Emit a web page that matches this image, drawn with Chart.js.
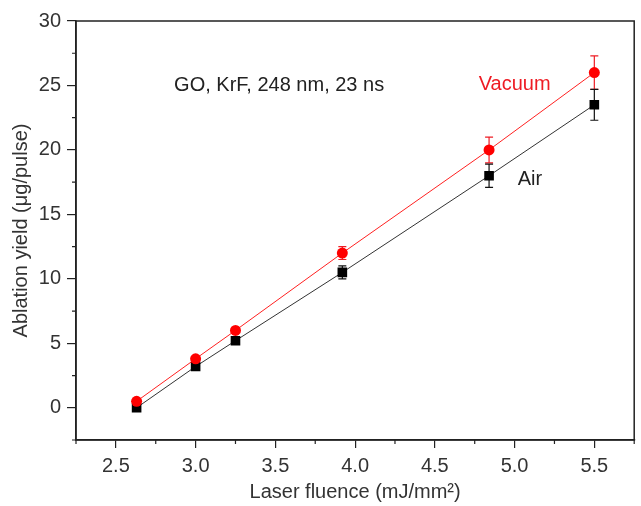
<!DOCTYPE html>
<html>
<head>
<meta charset="utf-8">
<script src="https://cdn.jsdelivr.net/npm/chart.js@4.4.0/dist/chart.umd.min.js"></script>
<style>
    html, body { margin: 0; padding: 0; background: #fff; }
    #wrap { width: 641px; height: 506px; }
</style>
</head>
<body>
<div id="wrap"><canvas id="ablationChart" width="641" height="506"></canvas></div>
<script>
// fluence values (mJ/mm^2)
const fluence = [2.63, 3.0, 3.25, 3.92, 4.84, 5.5];

// ablation yield (ug/pulse)
const vacuumYield = [0.5, 3.8, 6.0, 12.0, 20.0, 26.0];
const vacuumErr = [0, 0, 0, 0.5, 1.0, 1.3];
const airYield = [0.0, 3.2, 5.2, 10.5, 18.0, 23.5];
const airErr = [0, 0, 0, 0.5, 0.9, 1.2];

// text labels inside the plot
const noteText = ['GO, KrF, 248 nm, 23 ns', 'Vacuum', 'Air'];
const noteX = [2.865, 4.775, 5.02];
const noteY = [25.0, 25.1, 17.7];
const noteColor = ['#222', '#ee1c24', '#222'];

const FONT = 'Arial, "Liberation Sans", sans-serif';

function toPoints(xs, ys) {
    return xs.map((x, i) => ({ x: x, y: ys[i] }));
}

function isMajorX(v) {
    return Math.abs(v * 2 - Math.round(v * 2)) < 1e-6 && v > 2.3 && v < 5.7;
}
function isMajorY(v) {
    return Math.abs(v / 5 - Math.round(v / 5)) < 1e-6;
}

// error bars, frame box, minor ticks and notes
const extras = {
    id: 'extras',
    beforeDatasetsDraw(chart) {
        const ctx = chart.ctx;
        const xs = chart.scales.x, ys = chart.scales.y;
        chart.data.datasets.forEach(ds => {
            if (!ds.errors) return;
            ctx.save();
            ctx.strokeStyle = ds.errColor;
            ctx.lineWidth = 1.2;
            ds.data.forEach((p, i) => {
                const e = ds.errors[i];
                if (!e) return;
                const px = xs.getPixelForValue(p.x);
                const top = ys.getPixelForValue(p.y + e);
                const bot = ys.getPixelForValue(p.y - e);
                ctx.beginPath();
                ctx.moveTo(px, top); ctx.lineTo(px, bot);
                ctx.moveTo(px - 4, top); ctx.lineTo(px + 4, top);
                ctx.moveTo(px - 4, bot); ctx.lineTo(px + 4, bot);
                ctx.stroke();
            });
            ctx.restore();
        });
    },
    afterDraw(chart) {
        const ctx = chart.ctx;
        const a = chart.chartArea;
        const xs = chart.scales.x, ys = chart.scales.y;
        ctx.save();
        ctx.strokeStyle = '#222';
        ctx.lineWidth = 1.5;
        ctx.strokeRect(a.left, a.top, a.right - a.left, a.bottom - a.top);

        // minor ticks
        ctx.lineWidth = 1.2;
        ctx.beginPath();
        xs.ticks.forEach(t => {
            if (Math.abs(t.value * 2 - Math.round(t.value * 2)) < 1e-6) return;
            const px = xs.getPixelForValue(t.value);
            ctx.moveTo(px, a.bottom); ctx.lineTo(px, a.bottom + 4);
        });
        ys.ticks.forEach(t => {
            if (isMajorY(t.value)) return;
            const py = ys.getPixelForValue(t.value);
            ctx.moveTo(a.left, py); ctx.lineTo(a.left - 4, py);
        });
        ctx.stroke();

        ctx.font = '20px ' + FONT;
        ctx.textBaseline = 'middle';
        ctx.textAlign = 'left';
        noteText.forEach((txt, i) => {
            ctx.fillStyle = noteColor[i];
            ctx.fillText(txt, xs.getPixelForValue(noteX[i]), ys.getPixelForValue(noteY[i]));
        });
        ctx.restore();
    }
};

const ctxAblation = document.getElementById('ablationChart').getContext('2d');
const ablationChart = new Chart(ctxAblation, {
    type: 'scatter',
    data: {
        datasets: [
            {
                label: 'Vacuum',
                data: toPoints(fluence, vacuumYield),
                errors: vacuumErr,
                errColor: '#ee1c24',
                showLine: true,
                borderColor: '#ff2020',
                borderWidth: 1,
                backgroundColor: '#ff0000',
                pointStyle: 'circle',
                pointRadius: 5.5,
                pointBorderWidth: 0,
                tension: 0
            },
            {
                label: 'Air',
                data: toPoints(fluence, airYield),
                errors: airErr,
                errColor: '#111',
                showLine: true,
                borderColor: '#333',
                borderWidth: 1,
                backgroundColor: '#000',
                pointStyle: 'rect',
                pointRadius: 6.8,
                pointBorderWidth: 0,
                tension: 0
            }
        ]
    },
    options: {
        responsive: false,
        animation: false,
        layout: { padding: { top: 21, right: 2, left: 0, bottom: 0 } },
        plugins: {
            legend: { display: false },
            tooltip: { enabled: false }
        },
        scales: {
            x: {
                type: 'linear',
                min: 2.25,
                max: 5.75,
                afterFit: s => { s.height = 66; },
                border: { display: true, color: '#222', width: 1.5 },
                grid: {
                    drawOnChartArea: false,
                    tickLength: 8,
                    lineWidth: 1.2,
                    color: c => (c.tick && isMajorX(c.tick.value)) ? '#222' : 'rgba(0,0,0,0)'
                },
                ticks: {
                    stepSize: 0.25,
                    padding: 6,
                    color: '#333',
                    font: { family: FONT, size: 20 },
                    maxRotation: 0,
                    autoSkip: false,
                    callback: v => isMajorX(v) ? v.toFixed(1) : ''
                },
                title: {
                    display: true,
                    text: 'Laser fluence (mJ/mm²)',
                    color: '#333',
                    font: { family: FONT, size: 20 },
                    padding: { top: 0, bottom: 2 }
                }
            },
            y: {
                min: -2.5,
                max: 30,
                afterFit: s => { s.width = 76; },
                border: { display: true, color: '#222', width: 1.5 },
                grid: {
                    drawOnChartArea: false,
                    tickLength: 9,
                    lineWidth: 1.2,
                    color: c => (c.tick && isMajorY(c.tick.value)) ? '#222' : 'rgba(0,0,0,0)'
                },
                ticks: {
                    stepSize: 2.5,
                    padding: 6,
                    color: '#333',
                    font: { family: FONT, size: 20 },
                    autoSkip: false,
                    callback: v => isMajorY(v) ? String(v) : ''
                },
                title: {
                    display: true,
                    text: 'Ablation yield (μg/pulse)',
                    color: '#333',
                    font: { family: FONT, size: 20 },
                    padding: { top: 9, bottom: 0 }
                }
            }
        }
    },
    plugins: [extras]
});
</script>
</body>
</html>
